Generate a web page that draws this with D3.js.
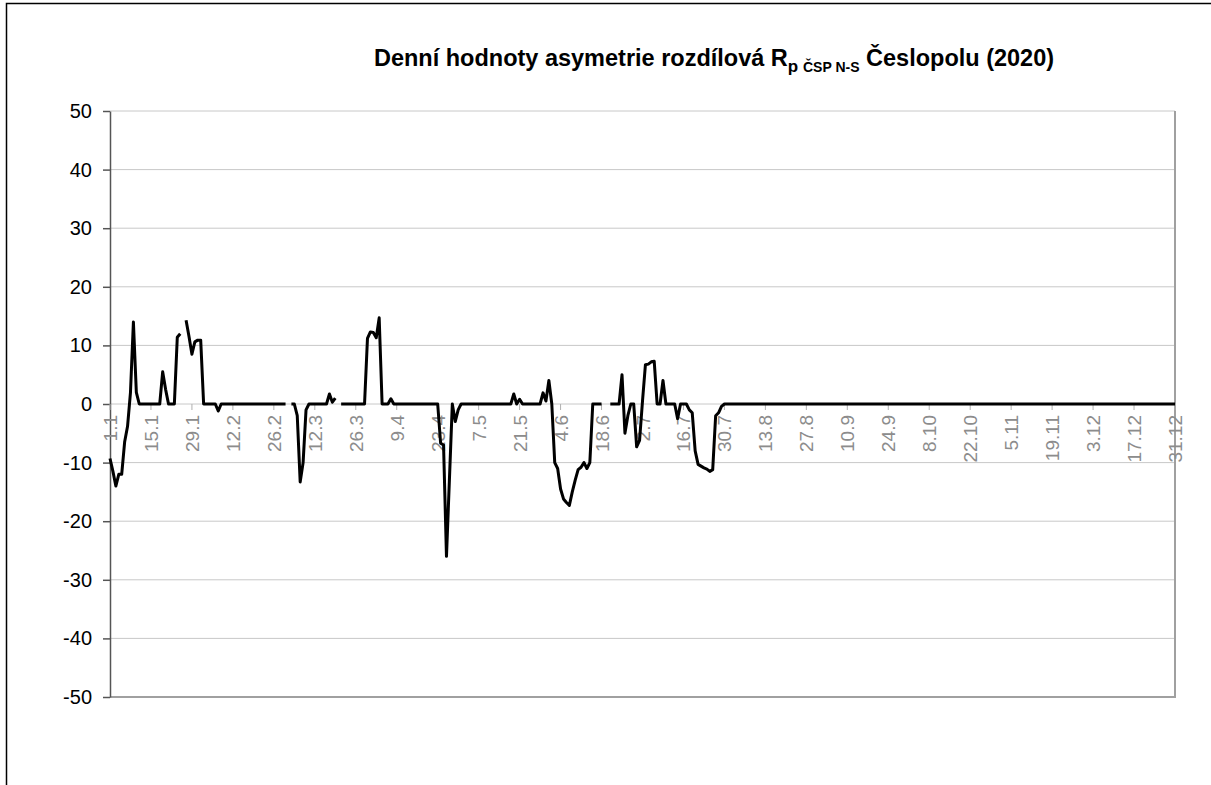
<!DOCTYPE html>
<html>
<head>
<meta charset="utf-8">
<script src="https://cdn.jsdelivr.net/npm/d3@7"></script>
<style>
  body { margin: 0; background: #fff; }
  svg { display: block; font-family: "Liberation Sans", Arial, sans-serif; }
</style>
</head>
<body>
<script>
// daily values, index 0 = 1.1 ... 364 = 31.12 (null = no data)
var janValues = [-9.3, -11.5, -14, -12, -12, -6.5, -3.8, 2, 14, 2, 0, 0, 0, 0, 0, 0, 0, 0, 5.5, 2.5, 0, 0, 0, 11.4, 12, null, 14.3, 11.5, 8.5, 10.6, 10.9];
var febValues = [10.9, 0, 0, 0, 0, 0, -1.2, 0, 0, 0, 0, 0, 0, 0, 0, 0, 0, 0, 0, 0, 0, 0, 0, 0, 0, 0, 0, 0];
var marValues = [0, 0, null, 0, 0, -2, -13.3, -10, -1, 0, 0, 0, 0, 0, 0, 0, 1.7, 0.3, 1.0, null, 0, 0, 0, 0, 0, 0, 0, 0, 0, 11.2, 12.3];
var aprValues = [12.2, 11.3, 14.7, 0, 0, 0, 0.9, 0, 0, 0, 0, 0, 0, 0, 0, 0, 0, 0, 0, 0, 0, 0, 0, -6.7, -7, -26, -13, 0, -3, -1];
var mayValues = [0, 0, 0, 0, 0, 0, 0, 0, 0, 0, 0, 0, 0, 0, 0, 0, 0, 0, 1.7, 0, 0.8, 0, 0, 0, 0, 0, 0, 0, 1.9, 0.5, 4];
var junValues = [0, -10, -11, -14.5, -16.2, -16.8, -17.3, -15, -13, -11.2, -10.8, -10, -11, -10, 0, 0, 0, 0, null, null, 0, 0, 0, 0, 5, -5, -2, 0, 0, -7.3];
var julValues = [-6.2, 0.5, 6.7, 6.8, 7.2, 7.3, 0, 0, 4, 0, 0, 0, 0, -2.5, 0, 0, 0, -1, -1.5, -8, -10.3, -10.6, -10.9, -11.1, -11.5, -11.2, -2, -1.5, -0.4, 0, 0];
var augValues = [0, 0, 0, 0, 0, 0, 0, 0, 0, 0, 0, 0, 0, 0, 0, 0, 0, 0, 0, 0, 0, 0, 0, 0, 0, 0, 0, 0, 0, 0, 0];
var sepValues = [0, 0, 0, 0, 0, 0, 0, 0, 0, 0, 0, 0, 0, 0, 0, 0, 0, 0, 0, 0, 0, 0, 0, 0, 0, 0, 0, 0, 0, 0];
var octValues = [0, 0, 0, 0, 0, 0, 0, 0, 0, 0, 0, 0, 0, 0, 0, 0, 0, 0, 0, 0, 0, 0, 0, 0, 0, 0, 0, 0, 0, 0, 0];
var novValues = [0, 0, 0, 0, 0, 0, 0, 0, 0, 0, 0, 0, 0, 0, 0, 0, 0, 0, 0, 0, 0, 0, 0, 0, 0, 0, 0, 0, 0, 0];
var decValues = [0, 0, 0, 0, 0, 0, 0, 0, 0, 0, 0, 0, 0, 0, 0, 0, 0, 0, 0, 0, 0, 0, 0, 0, 0, 0, 0, 0, 0, 0, 0];

var tickLabels = ["1.1", "15.1", "29.1", "12.2", "26.2", "12.3", "26.3", "9.4", "23.4", "7.5", "21.5", "4.6",
  "18.6", "2.7", "16.7", "30.7", "13.8", "27.8", "10.9", "24.9", "8.10", "22.10", "5.11", "19.11", "3.12", "17.12", "31.12"];
var yTicks = [-50, -40, -30, -20, -10, 0, 10, 20, 30, 40, 50];

var values = [].concat(janValues, febValues, marValues, aprValues, mayValues, junValues,
  julValues, augValues, sepValues, octValues, novValues, decValues);

var w = 1211,
    h = 785;
var svg = d3.select('body').append('svg').attr("width", w).attr("height", h);

var plotLeft = 110, plotRight = 1175, plotTop = 111, plotBottom = 697;

var x = d3.scaleLinear().domain([0, values.length - 1]).range([plotLeft, plotRight]);
var y = d3.scaleLinear().domain([-50, 50]).range([plotBottom, plotTop]);

// chart border (only left and top visible)
svg.append("rect")
  .attr("x", 6.5).attr("y", 3.5)
  .attr("width", 1300).attr("height", 900)
  .attr("fill", "none").attr("stroke", "#000").attr("stroke-width", 1.5);

// title
var title = svg.append("text")
  .attr("x", 714).attr("y", 66)
  .attr("text-anchor", "middle")
  .attr("font-size", 23.5).attr("font-weight", "bold");
title.append("tspan").text("Denní hodnoty asymetrie rozdílová R");
title.append("tspan").attr("dy", 6).attr("font-size", 17).text("p ");
title.append("tspan").attr("font-size", 14).text("ČSP N-S");
title.append("tspan").attr("dy", -6).text(" Česlopolu (2020)");

// gridlines
svg.append("g").selectAll("line").data(yTicks).enter().append("line")
  .attr("x1", plotLeft).attr("x2", plotRight)
  .attr("y1", function(d) { return y(d); })
  .attr("y2", function(d) { return y(d); })
  .attr("stroke", function(d) { return d === -50 ? "#a0a0a0" : "#c8c8c8"; })
  .attr("stroke-width", function(d) { return d === -50 ? 2 : 1; });

// plot area right edge
svg.append("line")
  .attr("x1", plotRight).attr("x2", plotRight).attr("y1", plotTop).attr("y2", plotBottom + 1)
  .attr("stroke", "#a0a0a0").attr("stroke-width", 2);

// y axis
var yAxis = svg.append("g")
  .attr("transform", "translate(" + plotLeft + ",0)")
  .call(d3.axisLeft(y).tickValues(yTicks).tickSize(7).tickPadding(11).tickSizeOuter(0)
    .tickFormat(function(d) { return String(d); }));
yAxis.select(".domain").attr("stroke", "#555").attr("stroke-width", 1.5);
yAxis.selectAll(".tick line").attr("stroke", "#555").attr("stroke-width", 1.5);
yAxis.selectAll("text").attr("font-size", 20).attr("fill", "#000")
  .attr("font-family", "Liberation Sans, Arial, sans-serif");

// category axis at zero
var catTicks = tickLabels.map(function(t, i) { return { label: t, day: i * 14 }; });
var xAxis = svg.append("g");
xAxis.selectAll("line").data(catTicks).enter().append("line")
  .attr("x1", function(d) { return x(d.day); })
  .attr("x2", function(d) { return x(d.day); })
  .attr("y1", y(0)).attr("y2", y(0) + 6)
  .attr("stroke", "#b0b0b0");
xAxis.selectAll("text").data(catTicks).enter().append("text")
  .attr("transform", function(d) { return "translate(" + (x(d.day) + 7) + "," + (y(0) + 11) + ") rotate(-90)"; })
  .attr("text-anchor", "end")
  .attr("font-size", 19)
  .attr("fill", "#8c8c8c")
  .text(function(d) { return d.label; });

// data line
var line = d3.line()
  .defined(function(d) { return d !== null; })
  .x(function(d, i) { return x(i); })
  .y(function(d) { return y(d); });

svg.append("path")
  .datum(values)
  .attr("d", line)
  .attr("fill", "none")
  .attr("stroke", "#000")
  .attr("stroke-width", 3)
  .attr("stroke-linejoin", "round");
</script>
</body>
</html>
